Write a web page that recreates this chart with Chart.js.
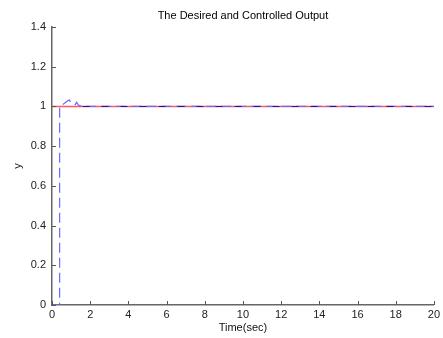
<!DOCTYPE html>
<html>
<head>
<meta charset="utf-8">
<script src="https://cdn.jsdelivr.net/npm/chart.js@4"></script>
<style>
  html, body { margin: 0; padding: 0; background: #fff; }
  #wrap { width: 443px; height: 338px; }
</style>
</head>
<body>
<div id="wrap"><canvas id="outChart"></canvas></div>
<script>
// values
const chartTitle = "The Desired and Controlled Output";
const desiredT = [0, 20];
const desiredY = [1, 1];
const outputT = [0, 0.4, 0.4, 0.52, 0.82, 0.91, 0.99, 1.12, 1.22, 1.29, 1.38, 1.57, 20];
const outputY = [0, 0, 1, 1.006, 1.029, 1.032, 1.019, 1.016, 1.009, 1.021, 1.007, 1.0, 1.0];
const refT = [1.6, 20];
const refY = [1, 1];
const xTicks = [0, 2, 4, 6, 8, 10, 12, 14, 16, 18, 20];
const yTicks = [0, 0.2, 0.4, 0.6, 0.8, 1, 1.2, 1.4];

const pts = (t, y) => t.map((v, i) => ({ x: v, y: y[i] }));

// matlab style ticks that point into the plot, and a title centred on the axes
const matlabLook = {
  id: "matlabLook",
  afterDraw(chart) {
    const { ctx, chartArea, scales } = chart;
    ctx.save();
    ctx.strokeStyle = "#555";
    ctx.lineWidth = 1;
    xTicks.forEach((v) => {
      const px = Math.round(scales.x.getPixelForValue(v)) + 0.5;
      ctx.beginPath();
      ctx.moveTo(px, chartArea.bottom);
      ctx.lineTo(px, chartArea.bottom - 4);
      ctx.stroke();
    });
    yTicks.forEach((v) => {
      const py = Math.round(scales.y.getPixelForValue(v)) + 0.5;
      ctx.beginPath();
      ctx.moveTo(chartArea.left, py);
      ctx.lineTo(chartArea.left + 4, py);
      ctx.stroke();
    });
    ctx.fillStyle = "#000";
    ctx.font = "11px 'Liberation Sans', Arial, sans-serif";
    ctx.textAlign = "center";
    ctx.textBaseline = "middle";
    ctx.fillText(chartTitle, (chartArea.left + chartArea.right) / 2, 16);
    ctx.restore();
  },
};

Chart.defaults.font.family = "'Liberation Sans', Arial, sans-serif";
Chart.defaults.font.size = 11;
Chart.defaults.color = "#222";

new Chart(document.getElementById("outChart"), {
  type: "line",
  data: {
    datasets: [
      {
        label: "desired",
        data: pts(desiredT, desiredY),
        borderColor: "#ff5a5a",
        borderWidth: 1.5,
        pointRadius: 0,
        order: 3,
      },
      {
        label: "controlled",
        data: pts(outputT, outputY),
        borderColor: "#6a6aff",
        borderWidth: 1.2,
        borderDash: [10, 5],
        pointRadius: 0,
        order: 2,
      },
      {
        label: "reference",
        data: pts(refT, refY),
        borderColor: "#1a1aa0",
        borderWidth: 1.1,
        borderDash: [7, 12],
        pointRadius: 0,
        order: 1,
      },
    ],
  },
  options: {
    responsive: true,
    maintainAspectRatio: false,
    animation: false,
    layout: { padding: { top: 27, right: 5 } },
    plugins: {
      legend: { display: false },
      tooltip: { enabled: false },
      title: { display: false },
    },
    scales: {
      x: {
        type: "linear",
        min: 0,
        max: 20,
        afterBuildTicks: (s) => { s.ticks = xTicks.map((v) => ({ value: v })); },
        afterFit: (s) => { s.height = 33; },
        ticks: { padding: 3, font: { size: 11 }, callback: (v) => String(v) },
        grid: { drawOnChartArea: false, drawTicks: false },
        border: { color: "#666", width: 1.5 },
        title: { display: true, text: "Time(sec)", color: "#111", padding: { top: 0, bottom: 3 } },
      },
      y: {
        type: "linear",
        min: 0,
        max: 1.4,
        afterBuildTicks: (s) => { s.ticks = yTicks.map((v) => ({ value: v })); },
        afterFit: (s) => { s.width = 52; },
        ticks: { padding: 6, font: { size: 11 }, callback: (v) => String(+v.toFixed(1)) },
        grid: { drawOnChartArea: false, drawTicks: false },
        border: { color: "#666", width: 1.5 },
        title: { display: true, text: "y", color: "#111", padding: { top: 11, bottom: 0 } },
      },
    },
  },
  plugins: [matlabLook],
});
</script>
</body>
</html>
